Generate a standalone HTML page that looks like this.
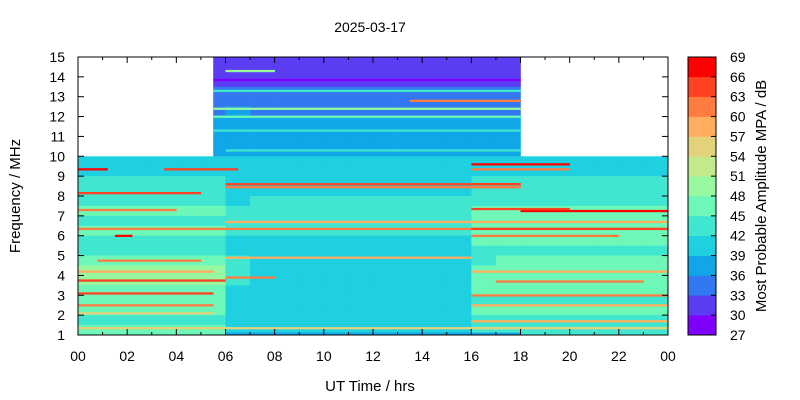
<!DOCTYPE html>
<html><head><meta charset="utf-8"><style>
html,body{margin:0;padding:0;background:#fff;}
svg{display:block;font-family:"Liberation Sans",Arial,sans-serif;}
</style></head><body>
<svg id="chart" width="800" height="400" viewBox="0 0 800 400">
<text x="370" y="32" font-size="14" text-anchor="middle">2025-03-17</text>
<text x="370" y="391" font-size="15" text-anchor="middle">UT Time / hrs</text>
<text transform="translate(20,196) rotate(-90)" font-size="15" text-anchor="middle">Frequency / MHz</text>
<text transform="translate(766,196) rotate(-90)" font-size="15" text-anchor="middle">Most Probable Amplitude MPA / dB</text>
<g id="cells"></g>
<g id="axes"></g>
<g id="cbar"></g>
</svg>
<script>
// ---- data ----
const levelEdges = [27,30,33,36,39,42,45,48,51,54,57,60,63,66,69];
const levelColors = ["#8000ff","#5a3cf2","#3278f0","#10a6e8","#1ed0e0","#40e6d0","#6ef8b8","#98f8a0","#c4e88c","#e2d27c","#ffae60","#ff7c40","#ff4222","#ff0000"];
const timeTicks = ["00","02","04","06","08","10","12","14","16","18","20","22","00"];
const freqTicks = [1,2,3,4,5,6,7,8,9,10,11,12,13,14,15];
// coverage: [fmin, fmax, t0, t1]
const coverage = [[1,10,0,24],[10,15,5.5,18]];
// rows of 0.5 MHz from 15 (top) down to 1, 24 hourly columns, level index (hex)
const rowFreqTop = [15,14.5,14,13.5,13,12.5,12,11.5,11,10.5,10,9.5,9,8.5,8,7.5,7,6.5,6,5.5,5,4.5,4,3.5,3,2.5,2,1.5];
const grid = [
"111111111111111111111111",
"111111111111111111111111",
"111111111111111111111111",
"222222222222222222222222",
"222222222222222222222222",
"222222322222222222222222",
"333333333333333333333333",
"333333333333333333333333",
"333333333333333333333333",
"333333333333333333333333",
"444444444444444444444444",
"444444444444444444444444",
"555555444444444455555555",
"555555444444444455555555",
"555555455555555555555555",
"666666555555555566666666",
"555555555555555566666666",
"666666555555555566666666",
"555555444444444466666666",
"555555444444444455555555",
"666666544444444456666666",
"777777544444444466666666",
"777777544444444466666666",
"666666444444444466666666",
"666666444444444455555555",
"666666444444444466666666",
"555555444444444455555555",
"666666444444444455555555"
];
// thin stripes: [freq, t0, t1, level]
const stripes = [
[9.35,0,1.2,13],[9.35,3.5,6.5,12],[8.15,0,5,12],[7.3,0,4,11],[6.35,0,24,11],[6.0,1.5,2.2,13],
[4.75,0.8,5,11],[4.2,0,5.5,10],[3.75,0,6,12],[3.1,0,5.5,12],[2.5,0,5.5,11],[2.1,0,5.5,9],[1.35,0,24,9],
[8.6,6,18,12],[8.45,6,18,11],[6.7,6,24,10],[4.9,6,16,10],[3.9,6,8,11],
[9.6,16,20,13],[9.35,16,20,11],[8.6,16,18,12],[7.25,18,24,13],[7.35,16,20,12],[6.35,16,24,12],[6.0,16,22,11],
[4.2,16,24,10],[3.7,17,23,11],[3.0,16,24,11],[2.5,16,24,10],[1.7,16,24,10],
[12.4,5.5,18,7],[12.0,5.5,18,6],[13.3,5.5,18,5],[14.3,6,8,7],[12.8,13.5,18,11],[11.3,5.5,18,5],[10.3,6,18,5],[13.85,5.5,18,0],
[1.07,6,18,3]
];
// ---- scales ----
const X0=78,X1=668,Y0=57,Y1=335;
const xs=t=>X0+(t/24)*(X1-X0);
const ys=f=>Y1-((f-1)/14)*(Y1-Y0);
const NS="http://www.w3.org/2000/svg";
function mk(tag,attrs,parent){const e=document.createElementNS(NS,tag);for(const k in attrs)e.setAttribute(k,attrs[k]);parent.appendChild(e);return e;}
const cells=document.getElementById('cells');
function drawRect(f0,f1,t0,t1,lvl,name){
  for(const c of coverage){
    const a=Math.max(f0,c[0]),b=Math.min(f1,c[1]),p=Math.max(t0,c[2]),q=Math.min(t1,c[3]);
    if(a<b&&p<q){
      const r=mk('rect',{x:xs(p),y:ys(b),width:xs(q)-xs(p)+0.3,height:ys(a)-ys(b)+0.3,fill:levelColors[lvl]},cells);
      
      
    }
  }
}
grid.forEach((row,ri)=>{
  const fTop=rowFreqTop[ri];
  for(let ci=0;ci<row.length;ci++){
    drawRect(fTop-0.5,fTop,ci,ci+1,parseInt(row[ci],16),'heatmap-cell');
  }
});
stripes.forEach(s=>drawRect(s[0]-0.05,s[0]+0.05,s[1],s[2],s[3],'heatmap-stripe'));
// ---- axes ----
const ax=document.getElementById('axes');
const frame=mk('rect',{x:X0,y:Y0,width:X1-X0,height:Y1-Y0,fill:'none',stroke:'#000','stroke-width':1},ax);


for(let h=0;h<=24;h++){
  const x=xs(h),len=(h%2===0)?6:3;
  mk('line',{x1:x,y1:Y1,x2:x,y2:Y1-len,stroke:'#000'},ax);
  mk('line',{x1:x,y1:Y0,x2:x,y2:Y0+len,stroke:'#000'},ax);
}
timeTicks.forEach((lab,i)=>{
  const t=mk('text',{x:xs(i*2),y:Y1+26,'font-size':14,'text-anchor':'middle'},ax);t.textContent=lab;
  
  
});
freqTicks.forEach(f=>{
  const y=ys(f);
  mk('line',{x1:X0,y1:y,x2:X0+6,y2:y,stroke:'#000'},ax);
  mk('line',{x1:X1,y1:y,x2:X1-6,y2:y,stroke:'#000'},ax);
  const t=mk('text',{x:X0-13,y:y+5,'font-size':14,'text-anchor':'end'},ax);t.textContent=f;
  
  
});
// ---- colorbar ----
const cb=document.getElementById('cbar');
const C0=688,C1=716;
const cy=v=>Y1-((v-27)/42)*(Y1-Y0);
levelColors.forEach((col,i)=>{
  const r=mk('rect',{x:C0,y:cy(levelEdges[i+1]),width:C1-C0,height:cy(levelEdges[i])-cy(levelEdges[i+1])+0.3,fill:col},cb);
  
  
});
mk('rect',{x:C0,y:Y0,width:C1-C0,height:Y1-Y0,fill:'none',stroke:'#000'},cb);
levelEdges.forEach(v=>{
  const y=cy(v);
  mk('line',{x1:C1,y1:y,x2:C1-5,y2:y,stroke:'#000'},cb);
  const t=mk('text',{x:730,y:y+5,'font-size':14,'text-anchor':'start'},cb);t.textContent=v;
  
  
});
</script>
</body></html>
